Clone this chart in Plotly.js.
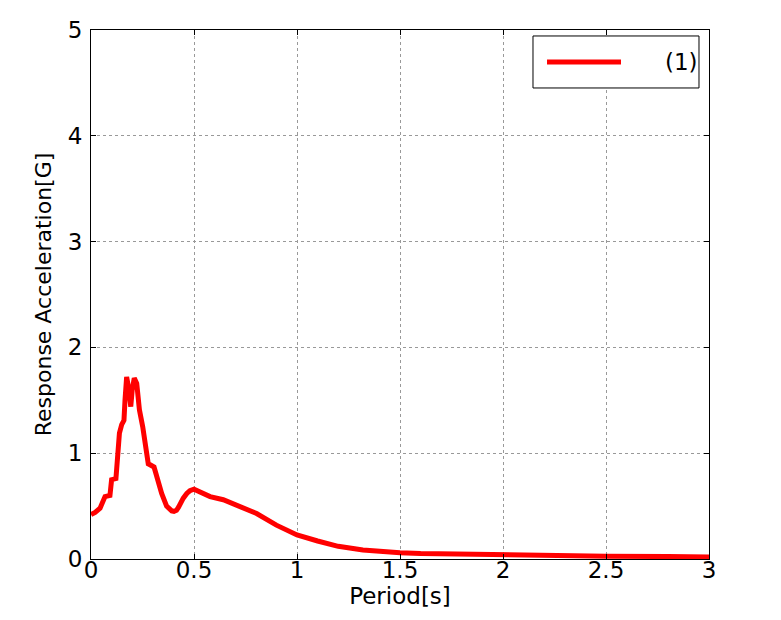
<!DOCTYPE html>
<html>
<head>
<meta charset="utf-8">
<script src="https://cdn.plot.ly/plotly-3.0.1.min.js"></script>
<style>html,body{margin:0;padding:0;background:#fff;}#chart{width:781px;height:620px;}</style>
</head>
<body>
<div id="chart"></div>
<script>
var seriesName = "(1)";
var period = [0, 0.02, 0.044, 0.068, 0.092, 0.10, 0.121, 0.128, 0.138, 0.149, 0.160, 0.165, 0.173, 0.184, 0.193, 0.20, 0.21, 0.222, 0.235, 0.251, 0.266, 0.278, 0.306, 0.322, 0.343, 0.367, 0.38, 0.392, 0.403, 0.415, 0.425, 0.432, 0.448, 0.465, 0.48, 0.50, 0.52, 0.537, 0.578, 0.642, 0.68, 0.723, 0.804, 0.90, 1.0, 1.1, 1.16, 1.2, 1.32, 1.4, 1.5, 1.6, 1.73, 2.0, 2.37, 2.5, 2.8, 3.0];
var accel = [0.42, 0.44, 0.48, 0.59, 0.60, 0.75, 0.76, 0.90, 1.19, 1.27, 1.31, 1.50, 1.72, 1.60, 1.44, 1.60, 1.71, 1.66, 1.41, 1.25, 1.0, 0.90, 0.87, 0.76, 0.62, 0.50, 0.47, 0.455, 0.45, 0.46, 0.49, 0.52, 0.575, 0.62, 0.645, 0.66, 0.645, 0.62, 0.59, 0.56, 0.53, 0.50, 0.43, 0.32, 0.227, 0.17, 0.135, 0.12, 0.085, 0.072, 0.06, 0.052, 0.047, 0.038, 0.028, 0.027, 0.023, 0.02];
var xTicks = [0, 0.5, 1, 1.5, 2, 2.5, 3];
var xTickText = ["0", "0.5", "1", "1.5", "2", "2.5", "3"];
var yTicks = [0, 1, 2, 3, 4, 5];
var yTickText = ["0", "1", "2", "3", "4", "5"];

var FONT = "DejaVu Sans, sans-serif";
var trace = {x: period, y: accel, type: "scatter", mode: "lines", name: seriesName,
  line: {color: "#ff0000", width: 5}, showlegend: false};

var axisCommon = {showline: true, linecolor: "#000", linewidth: 1, mirror: "ticks",
  ticks: "inside", ticklen: 5, tickcolor: "#000", showgrid: true,
  gridcolor: "#999", griddash: "dot", gridwidth: 1, zeroline: false,
  tickfont: {family: FONT, size: 23, color: "#000"}};

var layout = {
  width: 781, height: 620,
  margin: {l: 91, r: 72, t: 30, b: 61},
  paper_bgcolor: "#fff", plot_bgcolor: "#fff",
  xaxis: Object.assign({}, axisCommon, {range: [0, 3], tickvals: xTicks, ticktext: xTickText,
    ticklabelstandoff: -10,
    title: {text: "Period[s]", font: {family: FONT, size: 23, color: "#000"}, standoff: 0}}),
  yaxis: Object.assign({}, axisCommon, {range: [0, 5], tickvals: yTicks, ticktext: yTickText,
    ticklabelstandoff: 3,
    title: {text: "Response Acceleration[G]", font: {family: FONT, size: 22, color: "#000"}, standoff: 10}}),
  shapes: [
    {type: "rect", xref: "paper", yref: "paper", x0: 0.7152, x1: 0.9838, y0: 0.8904, y1: 0.9887,
      line: {color: "#000", width: 1}, fillcolor: "#fff", layer: "above"},
    {type: "line", xref: "paper", yref: "paper", x0: 0.7379, x1: 0.8576, y0: 0.9395, y1: 0.9395,
      line: {color: "#ff0000", width: 5}, layer: "above"}
  ],
  annotations: [
    {xref: "paper", yref: "paper", x: 0.985, y: 0.9395, xanchor: "right", yanchor: "middle",
      text: seriesName, showarrow: false, font: {family: FONT, size: 23, color: "#000"}}
  ]
};
Plotly.newPlot("chart", [trace], layout, {displayModeBar: false, staticPlot: true});
</script>
</body>
</html>
